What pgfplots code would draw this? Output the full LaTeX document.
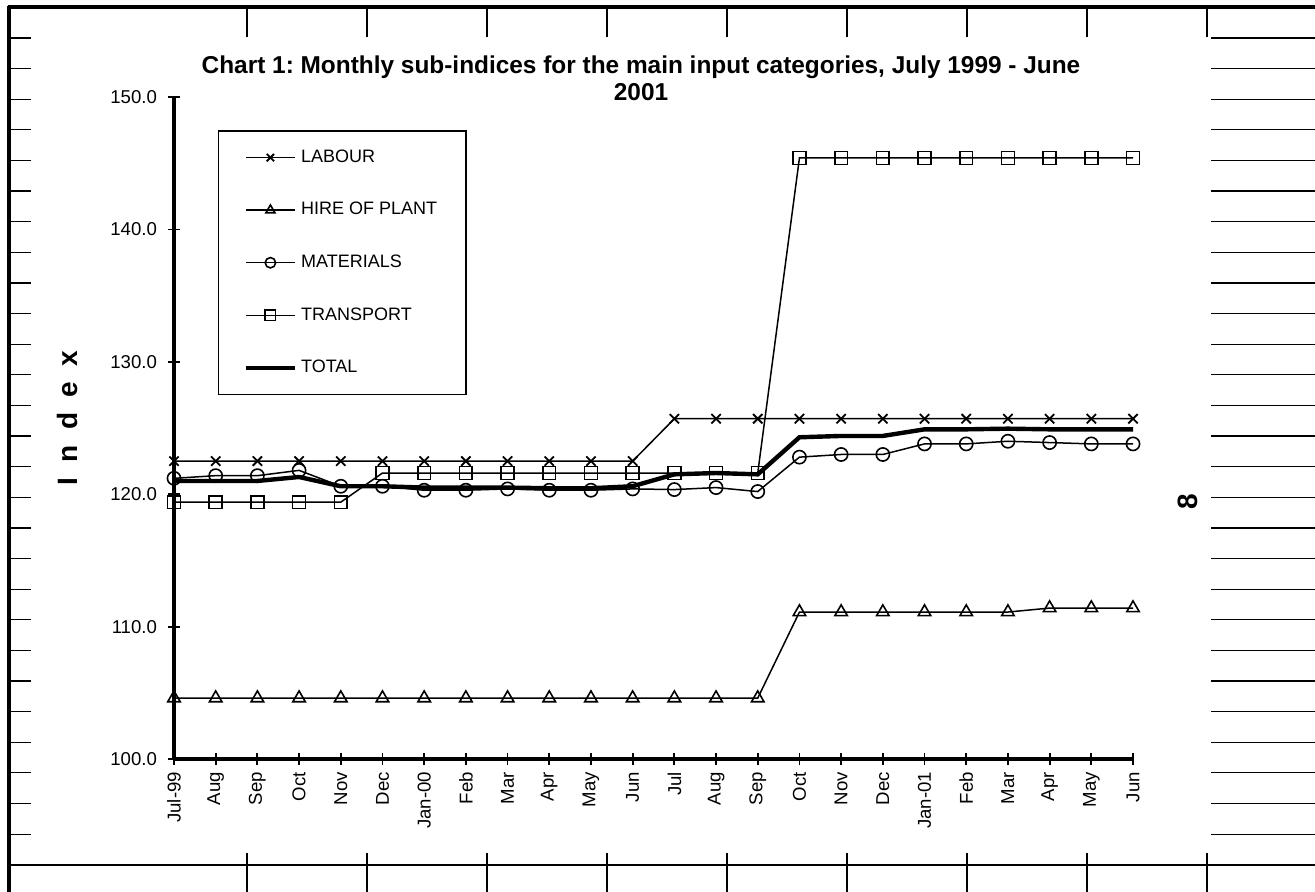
\documentclass[border=0pt]{standalone}
\usepackage{pgfplots}
\pgfplotsset{compat=1.18}
\usepackage{fontspec}
\setmainfont{Liberation Sans}
\frenchspacing
\begin{document}
\begin{tikzpicture}
\begin{scope}[x=0.5pt,y=-0.5pt]
\useasboundingbox (0,0) rectangle (1315,892);
% spreadsheet frame
\draw[line width=1.8pt] (8,7) -- (1315,7);
\draw[line width=1.8pt] (9,6) -- (9,892);
\foreach \k in {0,...,8} {
  \draw[line width=0.6pt] ({247+120*\k},8) -- ({247+120*\k},37);
  \draw[line width=0.6pt] ({247+120*\k},853) -- ({247+120*\k},892);
}
\foreach \k in {0,...,26} {
  \draw[line width=0.6pt] (10,{38+30.62*\k}) -- (31,{38+30.62*\k});
  \draw[line width=0.6pt] (1211,{38+30.62*\k}) -- (1315,{38+30.62*\k});
}
\draw[line width=0.6pt] (10,865) -- (1315,865);
% titles
\node[anchor=base,inner sep=0,font=\bfseries\fontsize{12.2}{14}\selectfont] at (641,74) {Chart 1: Monthly sub-indices for the main input categories, July 1999 - June};
\node[anchor=base,inner sep=0,font=\bfseries\fontsize{12.2}{14}\selectfont] at (641,101) {2001};
\node[rotate=90,inner sep=0,font=\bfseries\fontsize{14}{16}\selectfont] at (67,418) {I\hspace{0.55em}n\hspace{0.55em}d\hspace{0.55em}e\hspace{0.55em}x};
\node[rotate=90,inner sep=0,font=\bfseries\fontsize{14}{16}\selectfont] at (1188,502) {8};
\end{scope}
\begin{axis}[
  at={(87pt,-379.5pt)}, anchor=south west,
  width=479.5pt, height=331pt, scale only axis,
  xmin=0, xmax=23, ymin=100, ymax=150,
  axis lines*=left,
  axis line style={line width=1.6pt,-},
  tick style={line width=0.9pt,black},
  major tick length=6pt, tick align=center,
  ytick={100,110,...,150},
  xtick={0,...,23},
  xticklabels={Jul-99,Aug,Sep,Oct,Nov,Dec,Jan-00,Feb,Mar,Apr,May,Jun,Jul,Aug,Sep,Oct,Nov,Dec,Jan-01,Feb,Mar,Apr,May,Jun},
  x tick label style={rotate=90,anchor=east,font=\fontsize{9.3}{11}\selectfont},
  y tick label style={font=\fontsize{9.3}{11}\selectfont,xshift=-2pt},
  yticklabel style={/pgf/number format/.cd,fixed,fixed zerofill,precision=1,assume math mode=true},
  clip=false,
  legend style={at={(0.0459,0.950)}, anchor=north west, draw=black, line width=0.7pt,
    font=\fontsize{9}{11}\selectfont, row sep=14.5pt, inner xsep=12.5pt, inner ysep=7.5pt},
  legend cell align=left,
  legend image code/.code={\draw[mark repeat=2,mark phase=2,#1,mark size=2.6pt] plot coordinates {(0pt,0pt) (12.25pt,0pt) (24.5pt,0pt)};},
  every axis plot/.append style={black},
]
\addplot[line width=0.75pt, mark=x, mark size=3.3pt, mark options={line width=0.9pt}] coordinates {
(0,122.5)(1,122.5)(2,122.5)(3,122.5)(4,122.5)(5,122.5)(6,122.5)(7,122.5)(8,122.5)(9,122.5)(10,122.5)(11,122.5)
(12,125.7)(13,125.7)(14,125.7)(15,125.7)(16,125.7)(17,125.7)(18,125.7)(19,125.7)(20,125.7)(21,125.7)(22,125.7)(23,125.7)};
\addlegendentry{LABOUR}
\addplot[line width=0.75pt, mark=triangle, mark size=3.6pt, mark options={line width=0.8pt}] coordinates {
(0,104.6)(1,104.6)(2,104.6)(3,104.6)(4,104.6)(5,104.6)(6,104.6)(7,104.6)(8,104.6)(9,104.6)(10,104.6)(11,104.6)
(12,104.6)(13,104.6)(14,104.6)(15,111.1)(16,111.1)(17,111.1)(18,111.1)(19,111.1)(20,111.1)(21,111.4)(22,111.4)(23,111.4)};
\addlegendentry{HIRE OF PLANT}
\addplot[line width=0.75pt, mark=o, mark size=3.3pt, mark options={line width=0.8pt}] coordinates {
(0,121.2)(1,121.4)(2,121.4)(3,121.8)(4,120.6)(5,120.6)(6,120.3)(7,120.3)(8,120.4)(9,120.3)(10,120.3)(11,120.4)
(12,120.35)(13,120.5)(14,120.2)(15,122.8)(16,123.0)(17,123.0)(18,123.8)(19,123.8)(20,124.0)(21,123.9)(22,123.8)(23,123.8)};
\addlegendentry{MATERIALS}
\addplot[line width=0.75pt, mark=square, mark size=3.2pt, mark options={line width=0.8pt}] coordinates {
(0,119.4)(1,119.4)(2,119.4)(3,119.4)(4,119.4)(5,121.6)(6,121.6)(7,121.6)(8,121.6)(9,121.6)(10,121.6)(11,121.6)
(12,121.6)(13,121.6)(14,121.6)(15,145.4)(16,145.4)(17,145.4)(18,145.4)(19,145.4)(20,145.4)(21,145.4)(22,145.4)(23,145.4)};
\addlegendentry{TRANSPORT}
\addplot[line width=2.2pt, no marks] coordinates {
(0,121.0)(1,121.0)(2,121.0)(3,121.3)(4,120.6)(5,120.6)(6,120.5)(7,120.5)(8,120.5)(9,120.45)(10,120.45)(11,120.6)
(12,121.5)(13,121.6)(14,121.5)(15,124.3)(16,124.4)(17,124.4)(18,124.9)(19,124.9)(20,124.95)(21,124.9)(22,124.9)(23,124.9)};
\addlegendentry{TOTAL}
\end{axis}
\end{tikzpicture}
\end{document}
